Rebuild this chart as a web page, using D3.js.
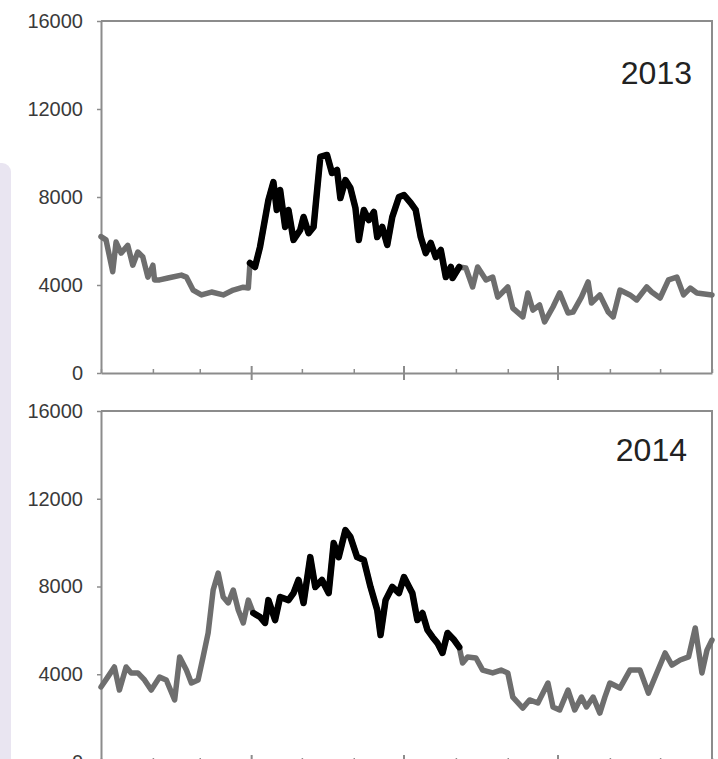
<!DOCTYPE html>
<html>
<head>
<meta charset="utf-8">
<script src="https://cdn.jsdelivr.net/npm/d3@7"></script>
<style>
  body { margin: 0; background: #fff; }
  svg { display: block; font-family: "Liberation Sans", Arial, sans-serif; }
</style>
</head>
<body>
<svg id="chart" width="718" height="759"></svg>
<script>
// Daily counts, sampled by day of year
const days2013 = [0,3,7,9,12,16,19,22,25,28,31,32,35,40,48,51,55,60,66,73,79,85,88,
  89,92,95,100,103,105,107,110,112,115,119,121,124,127,131,135,138,141,143,146,149,152,154,157,160,163,165,168,171,174,178,181,185,188,191,194,197,200,203,206,209,210,214,
  218,222,225,230,234,237,243,246,252,255,258,262,265,270,274,279,282,287,291,293,298,303,306,310,316,320,326,329,334,339,344,348,352,356,365];
const values2013 = [6200,6050,4600,5950,5450,5800,4900,5500,5270,4360,4900,4230,4230,4320,4450,4360,3770,3550,3680,3550,3770,3900,3860,
  5000,4820,5730,7860,8680,7410,8320,6640,7410,6050,6500,7090,6360,6640,9820,9910,9090,9230,7950,8770,8410,7500,6050,7410,6950,7320,6180,6640,5820,7090,8000,8090,7730,7410,6180,5450,5910,5270,5590,4360,4820,4320,4820,
  4770,3910,4820,4230,4360,3450,3910,2950,2550,3640,2860,3090,2320,3000,3640,2730,2770,3450,4140,3180,3550,2770,2550,3770,3550,3320,3910,3680,3410,4230,4360,3550,3860,3640,3550];

const days2014 = [0,4,8,11,15,18,22,26,30,35,39,44,47,51,54,58,61,64,67,70,73,76,79,82,85,88,
  91,95,98,100,104,107,112,115,118,121,125,128,132,136,139,142,146,149,153,157,161,165,167,170,174,178,181,185,186,189,192,195,198,201,204,207,211,214,
  216,219,224,228,234,239,243,246,252,256,261,267,270,274,279,283,287,290,294,298,301,304,310,316,322,327,332,337,341,346,351,355,359,362,365];
const values2014 = [3420,3870,4330,3280,4330,4060,4060,3740,3280,3870,3740,2830,4790,4190,3600,3740,4790,5880,7840,8610,7520,7250,7840,6930,6340,7380,
  6790,6610,6340,7380,6470,7520,7380,7700,8300,7250,9340,7980,8300,7700,9980,9340,10570,10260,9340,9210,7980,6930,5790,7380,7980,7700,8430,7840,7700,6470,6790,6020,5700,5420,4970,5880,5560,5240,
  4510,4790,4740,4190,4060,4190,4060,2960,2460,2830,2690,3600,2510,2370,3280,2370,2960,2510,2960,2230,2960,3600,3370,4190,4190,3140,4060,4970,4420,4650,4790,6110,4060,5100,5560];

const yTickValues = [0, 4000, 8000, 12000, 16000];
const monthStarts = [0, 31, 59, 90, 120, 151, 181, 212, 243, 273, 304, 334, 365];
const quarterStarts = [90, 181, 273];
const highlightStart = 89;   // first day drawn in black
const highlightEnd = 214;    // last day drawn in black

const svg = d3.select("#chart");

// Soft side tab on the left edge
svg.append("rect")
  .attr("x", -12).attr("y", 163).attr("width", 23).attr("height", 640)
  .attr("rx", 9).attr("fill", "#e9e5f1");

const x = d3.scaleLinear().domain([0, 365]).range([101, 712]);

const panels = [
  { label: "2013", days: days2013, values: values2013, top: 21, bottom: 373, labelX: 692, labelY: 84 },
  { label: "2014", days: days2014, values: values2014, top: 411, bottom: 762, labelX: 687, labelY: 461 }
];

const frameColor = "#8c8c8c";

panels.forEach(p => {
  const y = d3.scaleLinear().domain([0, 16000]).range([p.bottom, p.top]);
  const g = svg.append("g");

  // Top and right edges of the plot frame
  g.append("path")
    .attr("d", `M${x(0)},${p.top}H${x(365)}V${p.bottom}`)
    .attr("fill", "none").attr("stroke", frameColor).attr("stroke-width", 2);

  // Left value axis
  const yAxis = g.append("g")
    .attr("transform", `translate(${x(0)},0)`)
    .call(d3.axisLeft(y).tickValues(yTickValues).tickSize(4).tickSizeOuter(0).tickPadding(14).tickFormat(d3.format("d")));
  yAxis.select(".domain").attr("stroke", frameColor).attr("stroke-width", 2);
  yAxis.selectAll(".tick line").attr("stroke", frameColor).attr("stroke-width", 1.5);
  yAxis.selectAll(".tick text")
    .attr("fill", "#3a3a3a").attr("font-size", 20)
    .attr("font-family", "'Liberation Sans', Arial, sans-serif");

  // Bottom time axis with month ticks, quarter ticks crossing the line
  const xAxis = g.append("g")
    .attr("transform", `translate(0,${p.bottom})`)
    .call(d3.axisBottom(x).tickValues(monthStarts.filter(d => !quarterStarts.includes(d))).tickSize(-4).tickSizeOuter(0).tickFormat(""));
  xAxis.select(".domain").attr("stroke", frameColor).attr("stroke-width", 2);
  xAxis.selectAll(".tick line").attr("stroke", frameColor).attr("stroke-width", 1.5);

  g.selectAll("line.quarter")
    .data(quarterStarts)
    .join("line")
    .attr("class", "quarter")
    .attr("x1", d => x(d)).attr("x2", d => x(d))
    .attr("y1", p.bottom - 7).attr("y2", p.bottom + 7)
    .attr("stroke", frameColor).attr("stroke-width", 2);

  // Series
  const pts = p.days.map((d, i) => ({ day: d, value: p.values[i] }));
  const line = d3.line().x(d => x(d.day)).y(d => y(d.value));

  g.append("path")
    .datum(pts)
    .attr("d", line)
    .attr("fill", "none").attr("stroke", "#6e6e6e")
    .attr("stroke-width", 5.5).attr("stroke-linejoin", "round").attr("stroke-linecap", "round");

  g.append("path")
    .datum(pts.filter(d => d.day >= highlightStart && d.day <= highlightEnd))
    .attr("d", line)
    .attr("fill", "none").attr("stroke", "#000")
    .attr("stroke-width", 6.5).attr("stroke-linejoin", "round").attr("stroke-linecap", "round");

  // Year label
  g.append("text")
    .attr("x", p.labelX).attr("y", p.labelY)
    .attr("text-anchor", "end")
    .attr("font-size", 32).attr("fill", "#222")
    .text(p.label);
});
</script>
</body>
</html>
